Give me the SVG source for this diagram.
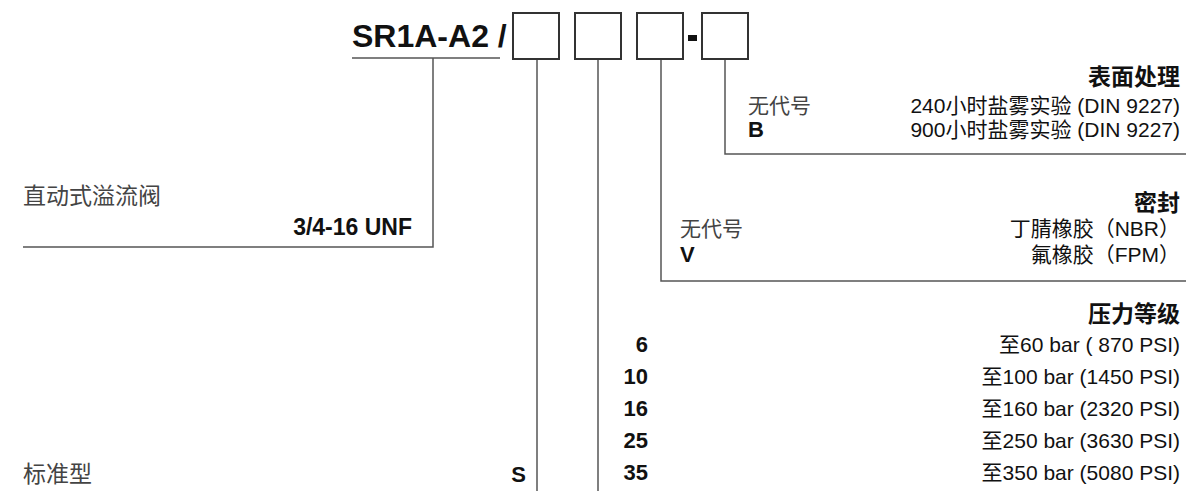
<svg xmlns="http://www.w3.org/2000/svg" width="1186" height="491" viewBox="0 0 1186 491">
<style>
text{font-family:"Liberation Sans","Noto Sans CJK SC",sans-serif;fill:#111}
.t{font-size:21px}
.cn{font-size:23px;fill:#444}
.h{font-size:23px;font-weight:bold}
.b{font-size:22px;font-weight:bold}
.r{text-anchor:end}
.ln{fill:none;stroke:#555;stroke-width:1.5}
.box{fill:#fff;stroke:#333;stroke-width:2}
</style>
<rect width="1186" height="491" fill="#fff"/>
<g id="connectors">
<polyline class="ln" points="352,58 500,58"/>
<polyline class="ln" points="433,58 433,247 23,247"/>
<polyline class="ln" points="537,59 537,491"/>
<polyline class="ln" points="598,59 598,491"/>
<polyline class="ln" points="661,59 661,281 1186,281"/>
<polyline class="ln" points="725,59 725,154 1186,154"/>
</g>
<g id="code">
<text x="352" y="47" style="font-size:32px;font-weight:bold">SR1A-A2 /</text>
<rect class="box" x="513" y="13" width="46" height="46"/>
<rect class="box" x="575" y="13" width="46" height="46"/>
<rect class="box" x="637" y="13" width="46" height="46"/>
<rect x="688" y="35" width="9" height="6" fill="#111"/>
<rect class="box" x="702" y="13" width="46" height="46"/>
</g>
<g id="surface">
<text class="h r" x="1180" y="85">表面处理</text>
<text class="t" x="748" y="113" style="fill:#444">无代号</text>
<text class="t r" x="1180" y="113">240小时盐雾实验 (DIN 9227)</text>
<text class="b" x="748" y="137">B</text>
<text class="t r" x="1180" y="137">900小时盐雾实验 (DIN 9227)</text>
</g>
<g id="valve">
<text class="cn" x="23" y="204">直动式溢流阀</text>
<text class="h r" x="412" y="235">3/4-16 UNF</text>
</g>
<g id="seal">
<text class="h r" x="1180" y="211">密封</text>
<text class="t" x="680" y="236" style="fill:#444">无代号</text>
<text class="t r" x="1180" y="236">丁腈橡胶（NBR）</text>
<text class="b" x="680" y="262">V</text>
<text class="t r" x="1180" y="262">氟橡胶（FPM）</text>
</g>
<g id="pressure">
<text class="h r" x="1180" y="322">压力等级</text>
<text class="b r" x="648" y="352">6</text>
<text class="t r" x="1180" y="352">至60 bar ( 870 PSI)</text>
<text class="b r" x="648" y="384">10</text>
<text class="t r" x="1180" y="384">至100 bar (1450 PSI)</text>
<text class="b r" x="648" y="416">16</text>
<text class="t r" x="1180" y="416">至160 bar (2320 PSI)</text>
<text class="b r" x="648" y="448">25</text>
<text class="t r" x="1180" y="448">至250 bar (3630 PSI)</text>
<text class="b r" x="648" y="480">35</text>
<text class="t r" x="1180" y="480">至350 bar (5080 PSI)</text>
</g>
<g id="type">
<text class="cn" x="23" y="482">标准型</text>
<text class="b r" x="526" y="482">S</text>
</g>
</svg>
